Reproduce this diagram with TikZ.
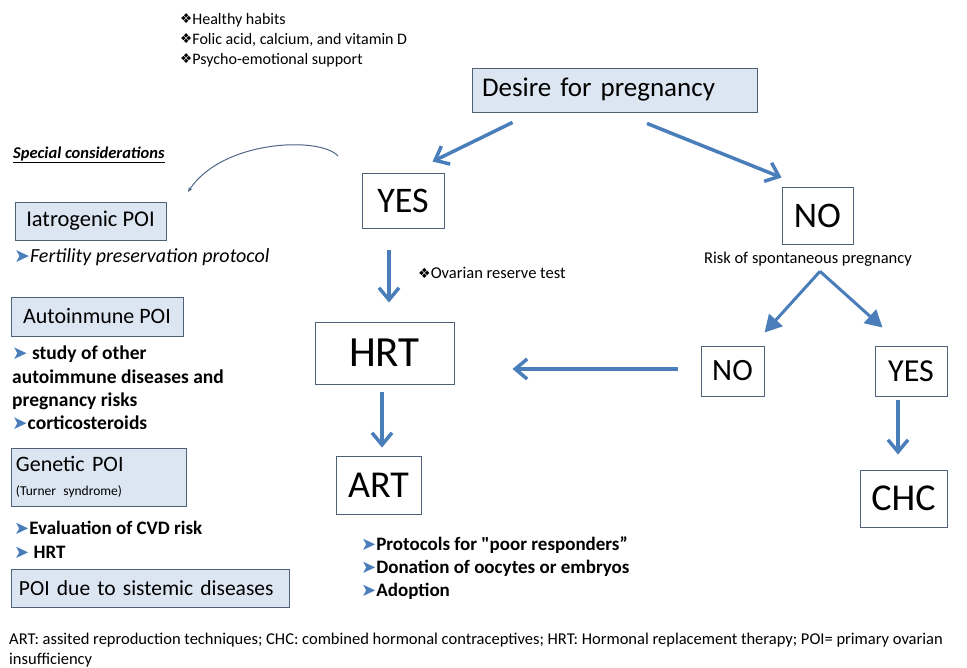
\documentclass[tikz,border=0pt]{standalone}
\usepackage{fontspec}
\setmainfont{Carlito}
\newfontfamily\symfont{DejaVu Sans}
\newfontfamily\quotefont{Carlito}[Ligatures=TeXOff]
\usepackage{xcolor}
\usetikzlibrary{arrows.meta,positioning}

\definecolor{arrowblue}{HTML}{4A7EBB}
\definecolor{boxblue}{HTML}{DCE6F2}
\definecolor{boxline}{HTML}{4F6178}
\newcommand{\setfs}[2]{\fontsize{#1}{#2}\selectfont}
\newcommand{\dia}{\raisebox{0.05ex}{\scalebox{0.85}{\symfont ❖}}}
\newcommand{\tri}{{\color{arrowblue}\scalebox{0.95}{\symfont ➤}}}

\begin{document}
\begin{tikzpicture}[x=1pt,y=-1pt,
    plainbox/.style={draw=boxline, line width=0.9pt, inner sep=0pt},
    bluebox/.style={draw=boxline, line width=0.9pt, fill=boxblue, inner sep=0pt},
    note/.style={anchor=west, inner sep=0pt, align=left},
    bigarrow/.style={draw=arrowblue, line width=3.5pt,
        -{Straight Barb[length=12pt,width=20pt]}},
    splitarrow/.style={draw=arrowblue, line width=3pt,
        -{Triangle[length=17pt,width=18pt]}},
    thinarrow/.style={draw=boxline!80!arrowblue, line width=1pt,
        -{Stealth[length=5pt,width=4pt]}}]
    \useasboundingbox (0,0) rectangle (967,668);

    % Top advice
    \node[note, font=\setfs{16}{20}] (advice) at (180,40)
        {\dia Healthy habits\\ \dia Folic acid, calcium, and vitamin D\\ \dia Psycho-emotional support};

    % Main decision tree
    \node[bluebox, minimum width=285pt, minimum height=44pt, text width=265pt,
        inner xsep=10pt, align=left, font=\setfs{27}{32}] (desire) at (614.5,90) {Desire for pregnancy};
    \node[plainbox, minimum width=82pt, minimum height=55pt, font=\setfs{36}{40}] (yes) at (403,200.5) {YES};
    \node[plainbox, minimum width=71pt, minimum height=57pt, font=\setfs{36}{40}] (no) at (817.5,215.5) {NO};
    \node[inner sep=0pt, font=\setfs{16.5}{18}] (risk) at (808,259) {Risk of spontaneous pregnancy};
    \node[note, font=\setfs{16.5}{18}] (ovarian) at (418,273) {\dia Ovarian reserve test};
    \node[plainbox, minimum width=139pt, minimum height=62pt, font=\setfs{43}{48}] (hrt) at (384.5,353) {HRT};
    \node[plainbox, minimum width=63pt, minimum height=50pt, font=\setfs{31}{36}] (no2) at (732.5,371) {NO};
    \node[plainbox, minimum width=72pt, minimum height=50pt, font=\setfs{32}{36}] (yes2) at (911,371) {YES};
    \node[plainbox, minimum width=85pt, minimum height=58pt, font=\setfs{38}{42}] (art) at (378.5,485) {ART};
    \node[plainbox, minimum width=87pt, minimum height=57pt, font=\setfs{38}{42}] (chc) at (903.5,498.5) {CHC};
    \node[note, font=\bfseries\setfs{19}{23}] (artnotes) at (361,568)
        {\tri Protocols for {\quotefont "}poor responders”\\ \tri Donation of oocytes or embryos\\ \tri Adoption};

    \draw[bigarrow] ([xshift=-102pt,yshift=-10pt]desire.south) -- ([xshift=71pt,yshift=11pt]yes.north west);
    \draw[bigarrow] ([xshift=32.5pt,yshift=-11pt]desire.south) -- ([yshift=9pt]no.north west);
    \draw[bigarrow] ([xshift=-14pt,yshift=-22pt]yes.south) -- ([xshift=4.5pt,yshift=19pt]hrt.north);
    \draw[bigarrow] ([xshift=-23pt,yshift=2pt]no2.west) -- ([xshift=58pt,yshift=-16pt]hrt.east);
    \draw[bigarrow] ([xshift=-2.5pt,yshift=-8pt]hrt.south) -- ([xshift=3.5pt,yshift=8pt]art.north);
    \draw[bigarrow] ([xshift=-13pt,yshift=-4pt]yes2.south) -- ([xshift=-5.5pt,yshift=15pt]chc.north);
    \coordinate (apex) at ([xshift=12pt,yshift=-5pt]risk.south);
    \draw[splitarrow] (apex) -- ([xshift=64pt,yshift=13pt]no2.north west);
    \draw[splitarrow] (apex) -- ([xshift=8pt,yshift=18pt]yes2.north west);

    % Special considerations
    \node[note, font=\setfs{16.5}{18}] (special) at (13,155)
        {\underline{\textbf{\textit{Special considerations}}}};
    \coordinate (curvestart) at (338,156);
    \coordinate (curveend) at (188,192);
    \draw[thinarrow] (curvestart) .. controls (320,136) and (222,140) .. (curveend);

    \node[bluebox, minimum width=151pt, minimum height=38pt, font=\setfs{22.5}{26}] (iatro) at (90.5,221) {Iatrogenic POI};
    \node[note, font=\itshape\setfs{20}{22}] (fertility) at (14,257) {\tri Fertility preservation protocol};

    \node[bluebox, minimum width=172pt, minimum height=39pt, font=\setfs{22}{26}] (autoimm) at (97,316.5) {Autoinmune POI};
    \node[note, font=\bfseries\setfs{19.5}{23.3}] (autonotes) at (12,388)
        {\tri\ study of other\\ autoimmune diseases and\\ pregnancy risks\\ \tri corticosteroids};

    \node[bluebox, minimum width=175pt, minimum height=58pt, text width=165pt, inner xsep=5pt,
        align=left, font=\setfs{22}{24}] (genetic) at (98.5,477)
        {Genetic POI\\ {\setfs{13.5}{16}(Turner syndrome)}};
    \node[note, font=\bfseries\setfs{19}{24}] (genenotes) at (14,540)
        {\tri Evaluation of CVD risk\\ \tri\ HRT};

    \node[bluebox, minimum width=278pt, minimum height=38pt, text width=262pt, inner xsep=8pt,
        align=left, font=\setfs{21.5}{26}] (sistemic) at (150,588) {POI due to sistemic diseases};

    % Footnote
    \node[note, font=\setfs{16.5}{20}] (footer) at (9,650)
        {ART: assited reproduction techniques; CHC: combined hormonal contraceptives; HRT: Hormonal replacement therapy; POI= primary ovarian\\ insufficiency};
\end{tikzpicture}
\end{document}
